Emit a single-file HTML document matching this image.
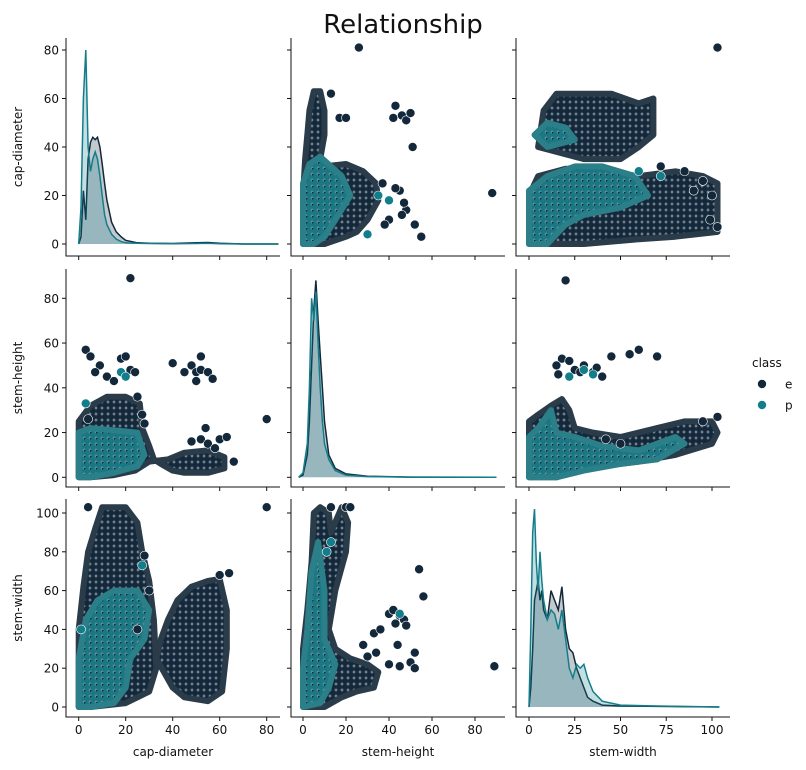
<!DOCTYPE html>
<html><head><meta charset="utf-8"><style>
body{margin:0;background:#fff;}
svg{display:block;font-family:"DejaVu Sans","Liberation Sans",sans-serif;}
</style></head><body>
<svg id="chart" width="806" height="770" xmlns="http://www.w3.org/2000/svg">
<defs>
<pattern id="patE" width="6" height="6" patternUnits="userSpaceOnUse"><rect width="6" height="6" fill="#7d8994"/><circle cx="3" cy="3" r="3.1" fill="#13293b"/></pattern>
<pattern id="patP" width="6" height="6" patternUnits="userSpaceOnUse"><rect width="6" height="6" fill="#5f8f98"/><circle cx="3" cy="3" r="3.1" fill="#1a7884"/><circle cx="0" cy="0" r="1.6" fill="#13293b"/></pattern>
</defs>
<text x="403" y="33" text-anchor="middle" font-size="26" fill="#111">Relationship</text>
<g id="plots"></g>
<g>
<text x="752" y="367" font-size="12" fill="#111">class</text>
<circle cx="762" cy="384" r="4.5" fill="#13293b" stroke="#fff" stroke-width="0.6"/>
<text x="785" y="388.5" font-size="12" fill="#111">e</text>
<circle cx="762" cy="405" r="4.5" fill="#137e8b" stroke="#fff" stroke-width="0.6"/>
<text x="785" y="409.5" font-size="12" fill="#111">p</text>
</g>
</svg>
<script>
// ---- axis ticks ----
const capTicks = [0,20,40,60,80];
const heightTicks = [0,20,40,60,80];
const widthTicksY = [0,20,40,60,80,100];
const widthTicksX = [0,25,50,75,100];
const varNames = ["cap-diameter","stem-height","stem-width"];

// ---- scatter blobs (data coords: [x,y] pairs) ----
const r0c1_eBlob = [[0,0],[0,20],[1,35],[2,45],[3,55],[5,63],[8,63],[10,55],[10,45],[8,35],[10,32],[20,33],[28,30],[34,25],[35,18],[30,10],[25,5],[20,3],[10,0]];
const r0c1_pBlob = [[0,0],[0,25],[3,33],[8,36],[18,28],[22,20],[15,10],[10,3],[5,0]];
const r0c1_ePts = [[26,81],[88,21],[43,57],[46,53],[48,51],[50,54],[51,40],[42,52],[45,22],[48,14],[52,8],[55,3],[40,10],[38,8],[47,17],[13,62],[17,52],[20,52],[46,12],[43,23],[37,25]];
const r0c1_pPts = [[35,20],[30,4],[40,18]];
const r0c2_eBlob1 = [[5,40],[8,55],[15,62],[30,62],[45,62],[60,58],[68,60],[68,45],[60,40],[50,35],[30,35],[15,38]];
const r0c2_eBlob2 = [[0,0],[0,20],[5,28],[20,31],[40,30],[60,28],[80,30],[95,28],[103,25],[103,5],[80,3],[60,2],[30,0],[10,0]];
const r0c2_pBlob1 = [[0,0],[0,22],[10,28],[25,32],[40,32],[58,28],[65,20],[50,15],[30,12],[20,8],[10,0]];
const r0c2_pBlob2 = [[3,45],[10,50],[20,48],[25,43],[10,40]];
const r0c2_ePts = [[103,81],[99,10],[100,20],[95,26],[90,22],[103,7],[72,32],[85,30]];
const r0c2_pPts = [[72,28],[60,30]];
const r1c0_eBlob1 = [[0,0],[0,25],[5,32],[12,36],[20,36],[26,33],[27,22],[30,14],[32,8],[35,6],[40,3],[45,2],[55,2],[62,4],[62,9],[55,12],[45,11],[38,8],[30,7],[24,3],[15,1],[5,0]];
const r1c0_pBlob = [[0,0],[0,20],[5,22],[15,21],[25,20],[28,10],[25,5],[15,2],[5,0]];
const r1c0_ePts = [[3,57],[5,54],[9,50],[7,47],[22,89],[18,53],[20,54],[22,48],[24,47],[40,51],[45,47],[48,50],[52,54],[50,47],[52,48],[55,47],[50,43],[57,44],[80,26],[48,16],[52,17],[55,15],[60,17],[63,18],[58,13],[54,22],[12,45],[15,43],[4,26],[28,24],[27,28],[25,36],[66,7]];
const r1c0_pPts = [[18,47],[20,45],[3,33]];
const r1c2_eBlob = [[0,0],[0,25],[5,28],[12,32],[18,35],[22,30],[25,22],[35,20],[50,18],[70,22],[85,25],[100,25],[103,20],[100,15],[80,10],[60,7],[40,5],[25,3],[15,0]];
const r1c2_pBlob = [[0,0],[0,18],[5,22],[12,30],[15,20],[25,18],[40,14],[60,12],[80,18],[85,15],[70,8],[50,6],[30,3],[15,0]];
const r1c2_ePts = [[18,53],[20,88],[15,50],[25,48],[22,52],[30,50],[35,47],[37,49],[40,45],[45,54],[60,57],[70,54],[55,55],[28,47],[16,46],[103,27],[95,25],[50,15],[42,17]];
const r1c2_pPts = [[30,48],[35,46],[22,45]];
const r2c0_eBlob1 = [[0,0],[0,40],[2,62],[4,80],[7,92],[10,103],[20,103],[25,95],[27,80],[30,65],[32,45],[33,20],[30,8],[20,2],[5,0]];
const r2c0_eBlob2 = [[33,25],[40,10],[45,5],[55,3],[61,8],[63,30],[63,50],[60,66],[55,65],[48,62],[42,55],[38,45],[35,35]];
const r2c0_pBlob = [[0,0],[0,25],[3,45],[8,55],[15,60],[25,60],[30,50],[28,35],[22,25],[20,10],[15,2],[5,0]];
const r2c0_ePts = [[80,103],[4,103],[28,78],[30,60],[25,40],[64,69],[60,68]];
const r2c0_pPts = [[1,40],[27,73]];
const r2c1_eBlob = [[0,0],[0,30],[2,50],[4,75],[5,100],[8,103],[12,100],[13,90],[18,103],[21,95],[20,80],[15,60],[12,40],[15,30],[22,25],[30,22],[35,18],[33,10],[25,8],[18,5],[10,0]];
const r2c1_pBlob = [[0,0],[0,20],[2,40],[4,70],[7,85],[10,60],[10,35],[15,22],[12,10],[8,2]];
const r2c1_ePts = [[28,32],[33,38],[36,40],[40,48],[42,50],[45,47],[47,45],[43,43],[44,32],[40,22],[45,21],[50,23],[52,20],[54,71],[56,57],[89,21],[34,28],[30,26],[48,42],[52,28],[13,103],[20,103],[22,103]];
const r2c1_pPts = [[45,48],[11,80],[13,85]];

// ---- diagonal KDEs ----
const capGrid = [0,1,2,3,4,5,6,7,8,9,10,11,12,14,16,18,20,25,30,40,50,55,60,70,85];
const capDensP = [0,15,60,80,40,30,35,38,35,28,20,12,8,4,2,1,0.5,0.3,0.2,0.1,0.2,0.3,0.1,0,0];
const capDensE = [0,3,22,10,35,42,44,43,44,40,33,25,18,9,5,3,1.5,0.5,0.3,0.2,0.5,0.6,0.3,0,0];
const heightGrid = [-2,0,2,3,4,5,6,7,8,9,10,12,15,20,30,50,90];
const heightDensE = [0,1,10,25,50,75,88,70,55,40,25,10,4,1.5,0.5,0.1,0];
const heightDensP = [0,2,15,40,80,70,83,60,40,25,15,8,3,1,0.3,0.1,0];
const widthGrid = [0,1,2,3,4,5,6,7,8,10,12,14,16,18,20,22,24,26,28,30,32,35,40,50,70,104];
const widthDensP = [0,40,90,102,75,60,80,65,55,45,50,48,40,50,35,20,15,22,20,22,15,8,3,1,0.5,0];
const widthDensE = [0,10,30,55,60,65,55,60,50,45,60,55,50,62,40,30,28,20,15,10,5,3,1,0.5,0.3,0];

// ---- layout / scales ----
const colLeft=[66,291,516], rowTop=[38,269,499], W=214, H=218;
const xScales=[v=>78.7+2.35*v, v=>303+2.15*v, v=>529+1.83*v];
const yScales=[v=>244-2.425*v, v=>477.3-2.2375*v, v=>707-1.94*v];
const xTickSets=[capTicks,heightTicks,widthTicksX];
const yTickSets=[capTicks,heightTicks,widthTicksY];
const E="#13293b", P="#137e8b";
const NS="http://www.w3.org/2000/svg";
const root=document.getElementById('plots');
function mk(tag,attrs,parent){const el=document.createElementNS(NS,tag);for(const k in attrs)el.setAttribute(k,attrs[k]);(parent||root).appendChild(el);return el;}

function panel(r,c){
  const g=mk('g',{});
  
  
  return g;
}
function blob(g,pts,r,c,cls){
  const d=pts.map((p,i)=>(i?'L':'M')+xScales[c](p[0]).toFixed(1)+','+yScales[r](p[1]).toFixed(1)).join('')+'Z';
  const el=mk('path',{d:d,fill:cls==='e'?'url(#patE)':'url(#patP)',stroke:cls==='e'?'#2a3b4a':'#2a7f89','stroke-width':6,'stroke-linejoin':'round'},g);
  
  
}
function points(g,pts,r,c,cls){
  pts.forEach(p=>{
    const el=mk('circle',{cx:xScales[c](p[0]),cy:yScales[r](p[1]),r:4.5,fill:cls==='e'?E:P,stroke:'#fff','stroke-width':0.6},g);
    
    
  });
}
function kde(g,grid,dens,r,c,cls){
  const base=yScales[r](0);
  let d='M'+xScales[c](grid[0])+','+base;
  grid.forEach((x,i)=>{d+='L'+xScales[c](x).toFixed(1)+','+yScales[r](dens[i]).toFixed(1);});
  d+='L'+xScales[c](grid[grid.length-1])+','+base+'Z';
  const f=mk('path',{d:d,fill:cls==='e'?'#13293b':'#137e8b','fill-opacity':0.25,stroke:'none'},g);
  
  
  const ld=grid.map((x,i)=>(i?'L':'M')+xScales[c](x).toFixed(1)+','+yScales[r](dens[i]).toFixed(1)).join('');
  const l=mk('path',{d:ld,fill:'none',stroke:cls==='e'?E:P,'stroke-width':1.5},g);
  
  
}
function axes(g,r,c){
  const x0=colLeft[c], y0=rowTop[r];
  const sp=mk('path',{d:`M${x0},${y0}V${y0+H}H${x0+W}`,fill:'none',stroke:'#111','stroke-width':1},g);
  
  
  xTickSets[c].forEach(t=>{
    const x=xScales[c](t);
    mk('line',{x1:x,x2:x,y1:y0+H,y2:y0+H+4,stroke:'#111'},g);
    if(r===2){const tx=mk('text',{x:x,y:y0+H+17,'text-anchor':'middle','font-size':12,fill:'#111'},g);tx.textContent=t;
      
      }
  });
  yTickSets[r].forEach(t=>{
    const y=yScales[r](t);
    mk('line',{x1:x0-4,x2:x0,y1:y,y2:y,stroke:'#111'},g);
    if(c===0){const tx=mk('text',{x:x0-7,y:y+4.5,'text-anchor':'end','font-size':12,fill:'#111'},g);tx.textContent=t;
      
      }
  });
  if(r===2){const t=mk('text',{x:x0+W/2,y:756,'text-anchor':'middle','font-size':12,fill:'#111'},g);t.textContent=varNames[c];
    
    }
  if(c===0){const cy=y0+H/2;const t=mk('text',{x:0,y:0,transform:`translate(22,${cy}) rotate(-90)`,'text-anchor':'middle','font-size':12,fill:'#111'},g);t.textContent=varNames[r];
    
    }
}

let g;
g=panel(0,0); kde(g,capGrid,capDensE,0,0,'e'); kde(g,capGrid,capDensP,0,0,'p'); axes(g,0,0);
g=panel(0,1); blob(g,r0c1_eBlob,0,1,'e'); blob(g,r0c1_pBlob,0,1,'p'); points(g,r0c1_ePts,0,1,'e'); points(g,r0c1_pPts,0,1,'p'); axes(g,0,1);
g=panel(0,2); blob(g,r0c2_eBlob1,0,2,'e'); blob(g,r0c2_eBlob2,0,2,'e'); blob(g,r0c2_pBlob1,0,2,'p'); blob(g,r0c2_pBlob2,0,2,'p'); points(g,r0c2_ePts,0,2,'e'); points(g,r0c2_pPts,0,2,'p'); axes(g,0,2);
g=panel(1,0); blob(g,r1c0_eBlob1,1,0,'e'); blob(g,r1c0_pBlob,1,0,'p'); points(g,r1c0_ePts,1,0,'e'); points(g,r1c0_pPts,1,0,'p'); axes(g,1,0);
g=panel(1,1); kde(g,heightGrid,heightDensE,1,1,'e'); kde(g,heightGrid,heightDensP,1,1,'p'); axes(g,1,1);
g=panel(1,2); blob(g,r1c2_eBlob,1,2,'e'); blob(g,r1c2_pBlob,1,2,'p'); points(g,r1c2_ePts,1,2,'e'); points(g,r1c2_pPts,1,2,'p'); axes(g,1,2);
g=panel(2,0); blob(g,r2c0_eBlob1,2,0,'e'); blob(g,r2c0_eBlob2,2,0,'e'); blob(g,r2c0_pBlob,2,0,'p'); points(g,r2c0_ePts,2,0,'e'); points(g,r2c0_pPts,2,0,'p'); axes(g,2,0);
g=panel(2,1); blob(g,r2c1_eBlob,2,1,'e'); blob(g,r2c1_pBlob,2,1,'p'); points(g,r2c1_ePts,2,1,'e'); points(g,r2c1_pPts,2,1,'p'); axes(g,2,1);
g=panel(2,2); kde(g,widthGrid,widthDensE,2,2,'e'); kde(g,widthGrid,widthDensP,2,2,'p'); axes(g,2,2);
</script>
</body></html>
